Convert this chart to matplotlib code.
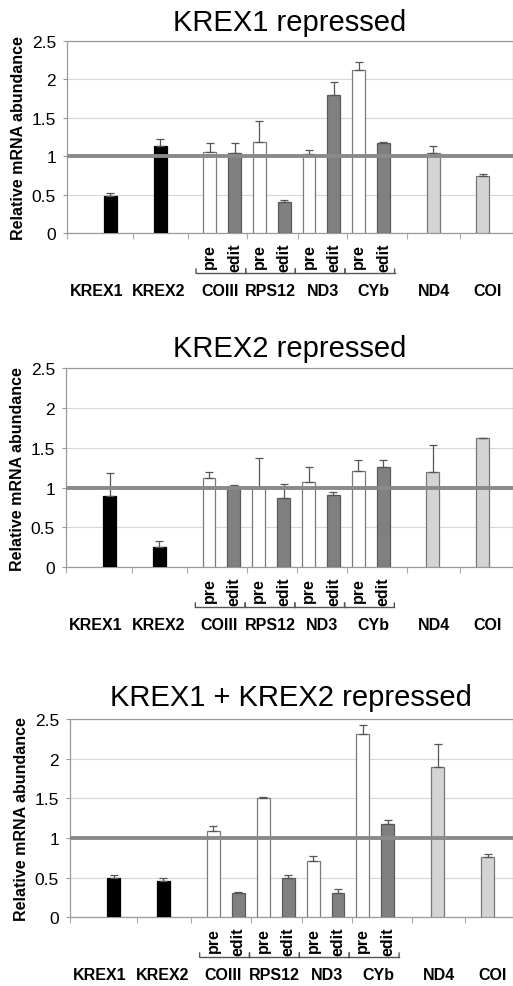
import matplotlib
matplotlib.use('Agg')
import matplotlib.pyplot as plt
from matplotlib.transforms import ScaledTranslation
import numpy as np

plt.rcParams['font.family'] = ['Liberation Sans', 'DejaVu Sans']

# data
bar_names = ['KREX1', 'KREX2', 'COIII pre', 'COIII edit', 'RPS12 pre', 'RPS12 edit',
             'ND3 pre', 'ND3 edit', 'CYb pre', 'CYb edit', 'ND4', 'COI']
titles = ['KREX1 repressed', 'KREX2 repressed', 'KREX1 + KREX2 repressed']
krex1_vals = [0.48, 1.13, 1.05, 1.04, 1.19, 0.41, 1.03, 1.80, 2.12, 1.17, 1.04, 0.75]
krex1_err = [0.04, 0.09, 0.12, 0.13, 0.27, 0.02, 0.055, 0.16, 0.10, 0.01, 0.09, 0.02]
krex2_vals = [0.90, 0.25, 1.12, 1.02, 0.99, 0.87, 1.07, 0.91, 1.21, 1.26, 1.20, 1.62]
krex2_err = [0.28, 0.08, 0.07, 0.01, 0.38, 0.18, 0.19, 0.04, 0.13, 0.08, 0.33, 0.005]
both_vals = [0.50, 0.46, 1.09, 0.31, 1.50, 0.49, 0.71, 0.31, 2.31, 1.18, 1.90, 0.76]
both_err = [0.035, 0.03, 0.065, 0.005, 0.02, 0.045, 0.06, 0.05, 0.12, 0.05, 0.28, 0.04]
group_labels = ['KREX1', 'KREX2', 'COIII', 'RPS12', 'ND3', 'CYb', 'ND4', 'COI']
sub_labels = ['pre', 'edit']
y_ticks = [0, 0.5, 1, 1.5, 2, 2.5]
y_ticklabels = ['0', '0.5', '1', '1.5', '2', '2.5']

# layout: bar slots (gaps between single bars), fills per bar kind
gaps = [0, 2, 2, 1, 1, 1, 1, 1, 1, 1, 2, 2]
xpos = np.cumsum(gaps)
kind = ['k', 'k', 'pre', 'edit', 'pre', 'edit', 'pre', 'edit', 'pre', 'edit', 'lt', 'lt']
face = {'k': 'black', 'pre': 'white', 'edit': '#808080', 'lt': '#d4d4d4'}
edge = {'k': 'black', 'pre': '#7a7a7a', 'edit': '#5a5a5a', 'lt': '#777777'}
group_x = [-0.55, 1.96, 4.4, 6.46, 8.55, 10.6, 13.05, 15.2]
pair_x = [4, 6, 8, 10]
xticks_pos = [-1.75, 0.92, 3.12, 5.52, 7.55, 9.55, 11.95, 14.1]

W, H = 513, 987
fig = plt.figure(figsize=(W / 100, H / 100), dpi=100)

panels = [
    # left px, top px, bottom px, right xlim, title pad
    (67, 41.7, 234.3, 16.2, 7.5, krex1_vals, krex1_err),
    (66, 369, 568.3, 16.2, 8.5, krex2_vals, krex2_err),
    (70, 720, 918.3, 16.0, 10.0, both_vals, both_err),
]

for (left, top, bottom, xr, tpad, vals, err), title in zip(panels, titles):
    ax = fig.add_axes([left / W, 1 - bottom / H, (512.5 - left) / W, (bottom - top) / H])
    cols = [face[k] for k in kind]
    ecols = [edge[k] for k in kind]
    ax.bar(xpos, vals, width=0.52, color=cols, edgecolor=ecols, linewidth=0.9, zorder=3)
    ax.errorbar(xpos, vals, yerr=[np.zeros(len(vals)), err], fmt='none',
                ecolor='#555555', elinewidth=0.9, capsize=2.6, capthick=0.9, zorder=4)
    ax.axhline(1, color='#8a8a8a', lw=2.8, zorder=5)
    ax.set_xlim(-1.75, xr)
    ax.set_ylim(0, 2.5)
    ax.set_yticks(y_ticks)
    ax.set_yticklabels(y_ticklabels, fontsize=12.5)
    ax.yaxis.grid(True, color='#d6d6d6', lw=0.8, zorder=0)
    ax.set_axisbelow(True)
    ax.tick_params(axis='y', length=3, color='#999999', pad=5)
    ax.set_xticks(xticks_pos)
    ax.set_xticklabels([])
    ax.tick_params(axis='x', length=4, color='#aaaaaa', direction='out')
    for s in ax.spines.values():
        s.set_color('#9a9a9a')
        s.set_linewidth(0.9)
    ax.set_ylabel('Relative mRNA abundance', fontsize=11.5, fontweight='bold', labelpad=4)
    ax.set_title(title, fontsize=21, pad=tpad)

    def below(px):
        return ax.get_xaxis_transform() + ScaledTranslation(0, -px / 100, fig.dpi_scale_trans)

    for x0 in pair_x:
        for j, lab in enumerate(sub_labels):
            ax.text(x0 + j, 0, lab, rotation=90, ha='center', va='top', fontsize=11.5,
                    fontweight='bold', transform=below(9.5))
        ax.plot([x0 - 0.55, x0 + 1.45], [0, 0], color='#555555', lw=1, clip_on=False,
                transform=below(40))
        # bracket end hooks
        for ex in (x0 - 0.55, x0 + 1.45):
            ax.annotate('', xy=(ex, 0), xycoords=below(40), xytext=(ex, 0),
                        textcoords=below(35.5),
                        arrowprops=dict(arrowstyle='-', color='#555555', lw=1,
                                        shrinkA=0, shrinkB=0))
    for gx, gl in zip(group_x, group_labels):
        ax.text(gx, 0, gl, ha='center', va='center', fontsize=11.5, fontweight='bold',
                transform=below(57))

fig.savefig('out.png', dpi=100)
